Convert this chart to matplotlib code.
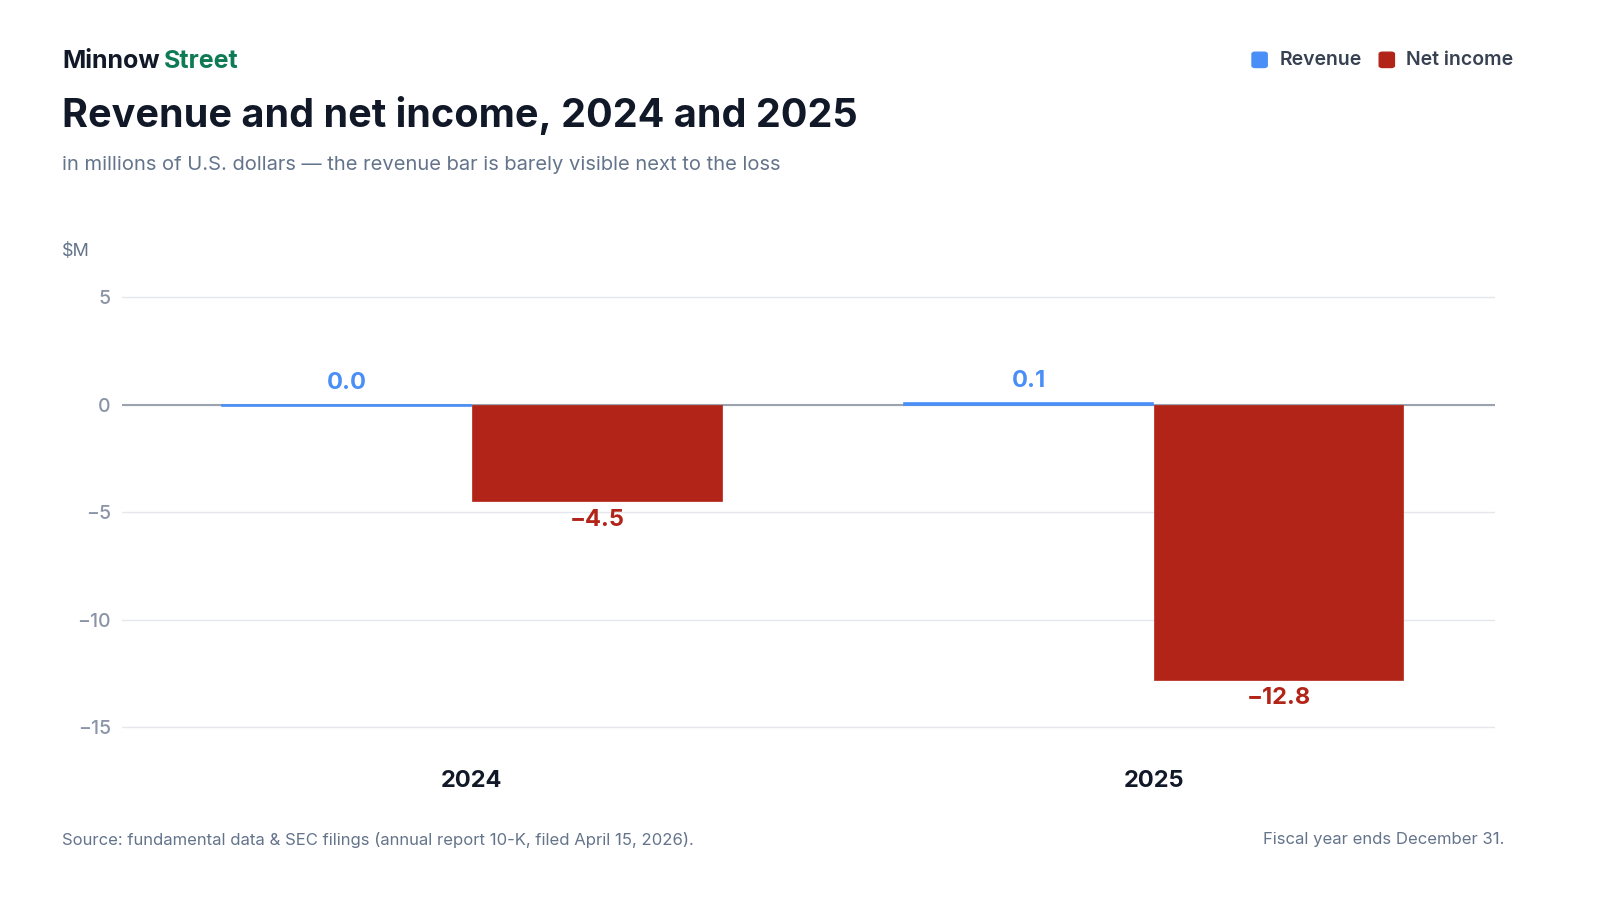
import matplotlib
matplotlib.use("Agg")
import matplotlib.pyplot as plt
import numpy as np
from matplotlib.patches import FancyBboxPatch

years = ["2024", "2025"]
revenue = [-0.04, 0.08]
net_income = [-4.5, -12.8]
yticks = [5, 0, -5, -10, -15]

REV = "#4a8ff7"
NI = "#b22418"
DARK = "#111827"
GREY = "#64748b"
TICK = "#8a94a6"
plt.rcParams['font.family'] = ['Inter', 'DejaVu Sans']

def fmt(v):
    r = round(v, 1)
    if r == 0:
        r = 0.0
    return f"{r:.1f}".replace("-", "\u2212")

fig = plt.figure(figsize=(16, 9), dpi=100)
ax = fig.add_axes([0.07625, 0.1444, 0.858, 0.561])
x = np.arange(len(years))
w = 0.367
for i in range(len(years)):
    ax.bar(x[i] - w/2, revenue[i], w*0.995, color=REV, edgecolor=REV, linewidth=1.2, zorder=4)
    ax.bar(x[i] + w/2, net_income[i], w*0.995, color=NI, edgecolor=NI, linewidth=0.5, zorder=4)
    ax.text(x[i] - w/2, max(revenue[i], 0) + 0.5, fmt(revenue[i]), ha="center", va="bottom",
            color=REV, fontsize=17, fontweight="bold")
    ax.text(x[i] + w/2, net_income[i] - 0.35, fmt(net_income[i]),
            ha="center", va="top", color=NI, fontsize=17, fontweight="bold")

ax.set_xlim(-0.513, 1.5)
ax.set_ylim(-17, 6.5)
ax.set_yticks(yticks)
ax.set_yticklabels([str(t).replace("-", "\u2212") for t in yticks], color=TICK, fontsize=14,
                   fontweight="medium")
ax.set_xticks(x)
ax.set_xticklabels(years, fontsize=17, fontweight="bold", color=DARK)
ax.tick_params(length=0, axis="y", pad=8)
ax.tick_params(length=0, axis="x", pad=0)
ax.grid(axis="y", color="#e5e7eb", linewidth=1)
ax.set_axisbelow(True)
ax.axhline(0, color="#9ca3af", linewidth=1.5, zorder=3)
for s in ax.spines.values():
    s.set_visible(False)

fig.text(0.039, 0.932, "Minnow", fontsize=18, fontweight="bold", color=DARK, va="center")
fig.text(0.1025, 0.932, "Street", fontsize=18, fontweight="bold", color="#0f7b55", va="center")
fig.text(0.039, 0.872, "Revenue and net income, 2024 and 2025", fontsize=28.5, fontweight="bold",
         color=DARK, va="center")
fig.text(0.039, 0.817, "in millions of U.S. dollars \u2014 the revenue bar is barely visible next to the loss",
         fontsize=14.5, color=GREY, va="center")
fig.text(0.039, 0.72, "$M", fontsize=13, color=GREY, va="center")
fig.text(0.039, 0.067, "Source: fundamental data & SEC filings (annual report 10-K, filed April 15, 2026).",
         fontsize=12, color=GREY, va="center")
fig.text(0.94, 0.067, "Fiscal year ends December 31.", fontsize=12, color=GREY, va="center", ha="right")

for xp, col, lab in [(0.7825, REV, "Revenue"), (0.862, NI, "Net income")]:
    fig.patches.append(FancyBboxPatch((xp, 0.925), 0.0095, 0.017, boxstyle="round,pad=0,rounding_size=0.002",
                                      transform=fig.transFigure, color=col))
    fig.text(xp + 0.017, 0.933, lab, fontsize=14, fontweight="semibold", color="#374151", va="center")

fig.savefig("out.png", dpi=100)
